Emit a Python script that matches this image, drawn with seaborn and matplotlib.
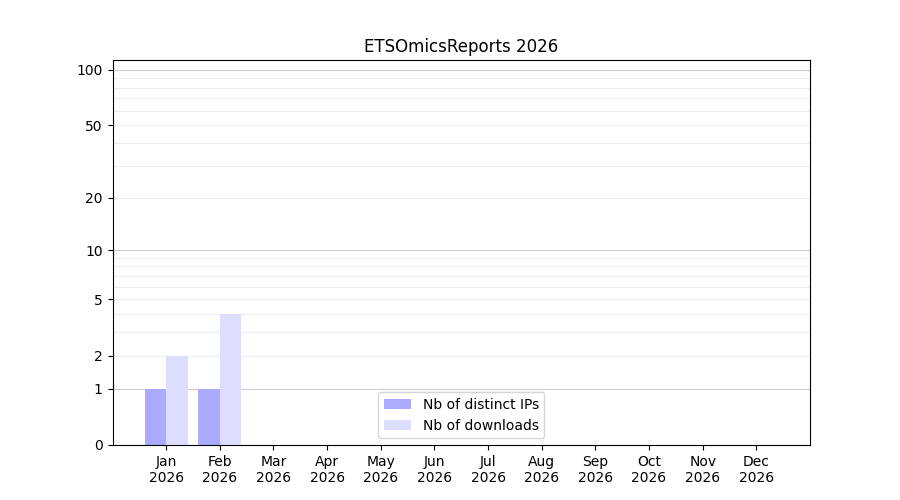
import numpy as np
import pandas as pd
import matplotlib
matplotlib.use("Agg")
import matplotlib.pyplot as plt
import seaborn as sns
from matplotlib.ticker import FixedLocator, NullFormatter

months = ["Jan", "Feb", "Mar", "Apr", "May", "Jun",
          "Jul", "Aug", "Sep", "Oct", "Nov", "Dec"]
year = "2026"
distinct_ips = [1, 1, 0, 0, 0, 0, 0, 0, 0, 0, 0, 0]
downloads = [2, 4, 0, 0, 0, 0, 0, 0, 0, 0, 0, 0]

labels = [m + "\n" + year for m in months]
df = pd.DataFrame({
    "month": labels * 2,
    "count": distinct_ips + downloads,
    "kind": ["Nb of distinct IPs"] * 12 + ["Nb of downloads"] * 12,
})

fig, ax = plt.subplots(figsize=(9, 5), dpi=100)

sns.barplot(data=df, x="month", y="count", hue="kind",
            palette=["#aaaaff", "#ddddff"], width=0.8, saturation=1,
            ax=ax)

# log(y+1) scale, like the original report
ax.set_yscale("function", functions=(lambda y: np.log10(np.asarray(y) + 1),
                                     lambda t: 10 ** np.asarray(t) - 1))
ax.set_ylim(0, 113)
ax.set_xlim(-1, 12)

ax.yaxis.set_major_locator(FixedLocator([0, 1, 2, 5, 10, 20, 50, 100]))
ax.set_yticklabels(["0", "1", "2", "5", "10", "20", "50", "100"])
minor = list(range(2, 10)) + list(range(20, 100, 10))
ax.yaxis.remove_overlapping_locs = False
ax.yaxis.set_minor_locator(FixedLocator(minor))
ax.yaxis.set_minor_formatter(NullFormatter())
ax.tick_params(axis="y", which="minor", length=0)
ax.grid(axis="y", which="minor", color="#eeeeee", linewidth=0.8)
for v in [1, 10, 100]:
    ax.axhline(v, color="#cccccc", linewidth=0.8, zorder=0.5)
ax.set_axisbelow(True)

ax.set_xlabel("")
ax.set_ylabel("")
ax.set_title("ETSOmicsReports " + year)
sns.move_legend(ax, "lower center", title=None)

plt.savefig("out.png")
plt.close()
